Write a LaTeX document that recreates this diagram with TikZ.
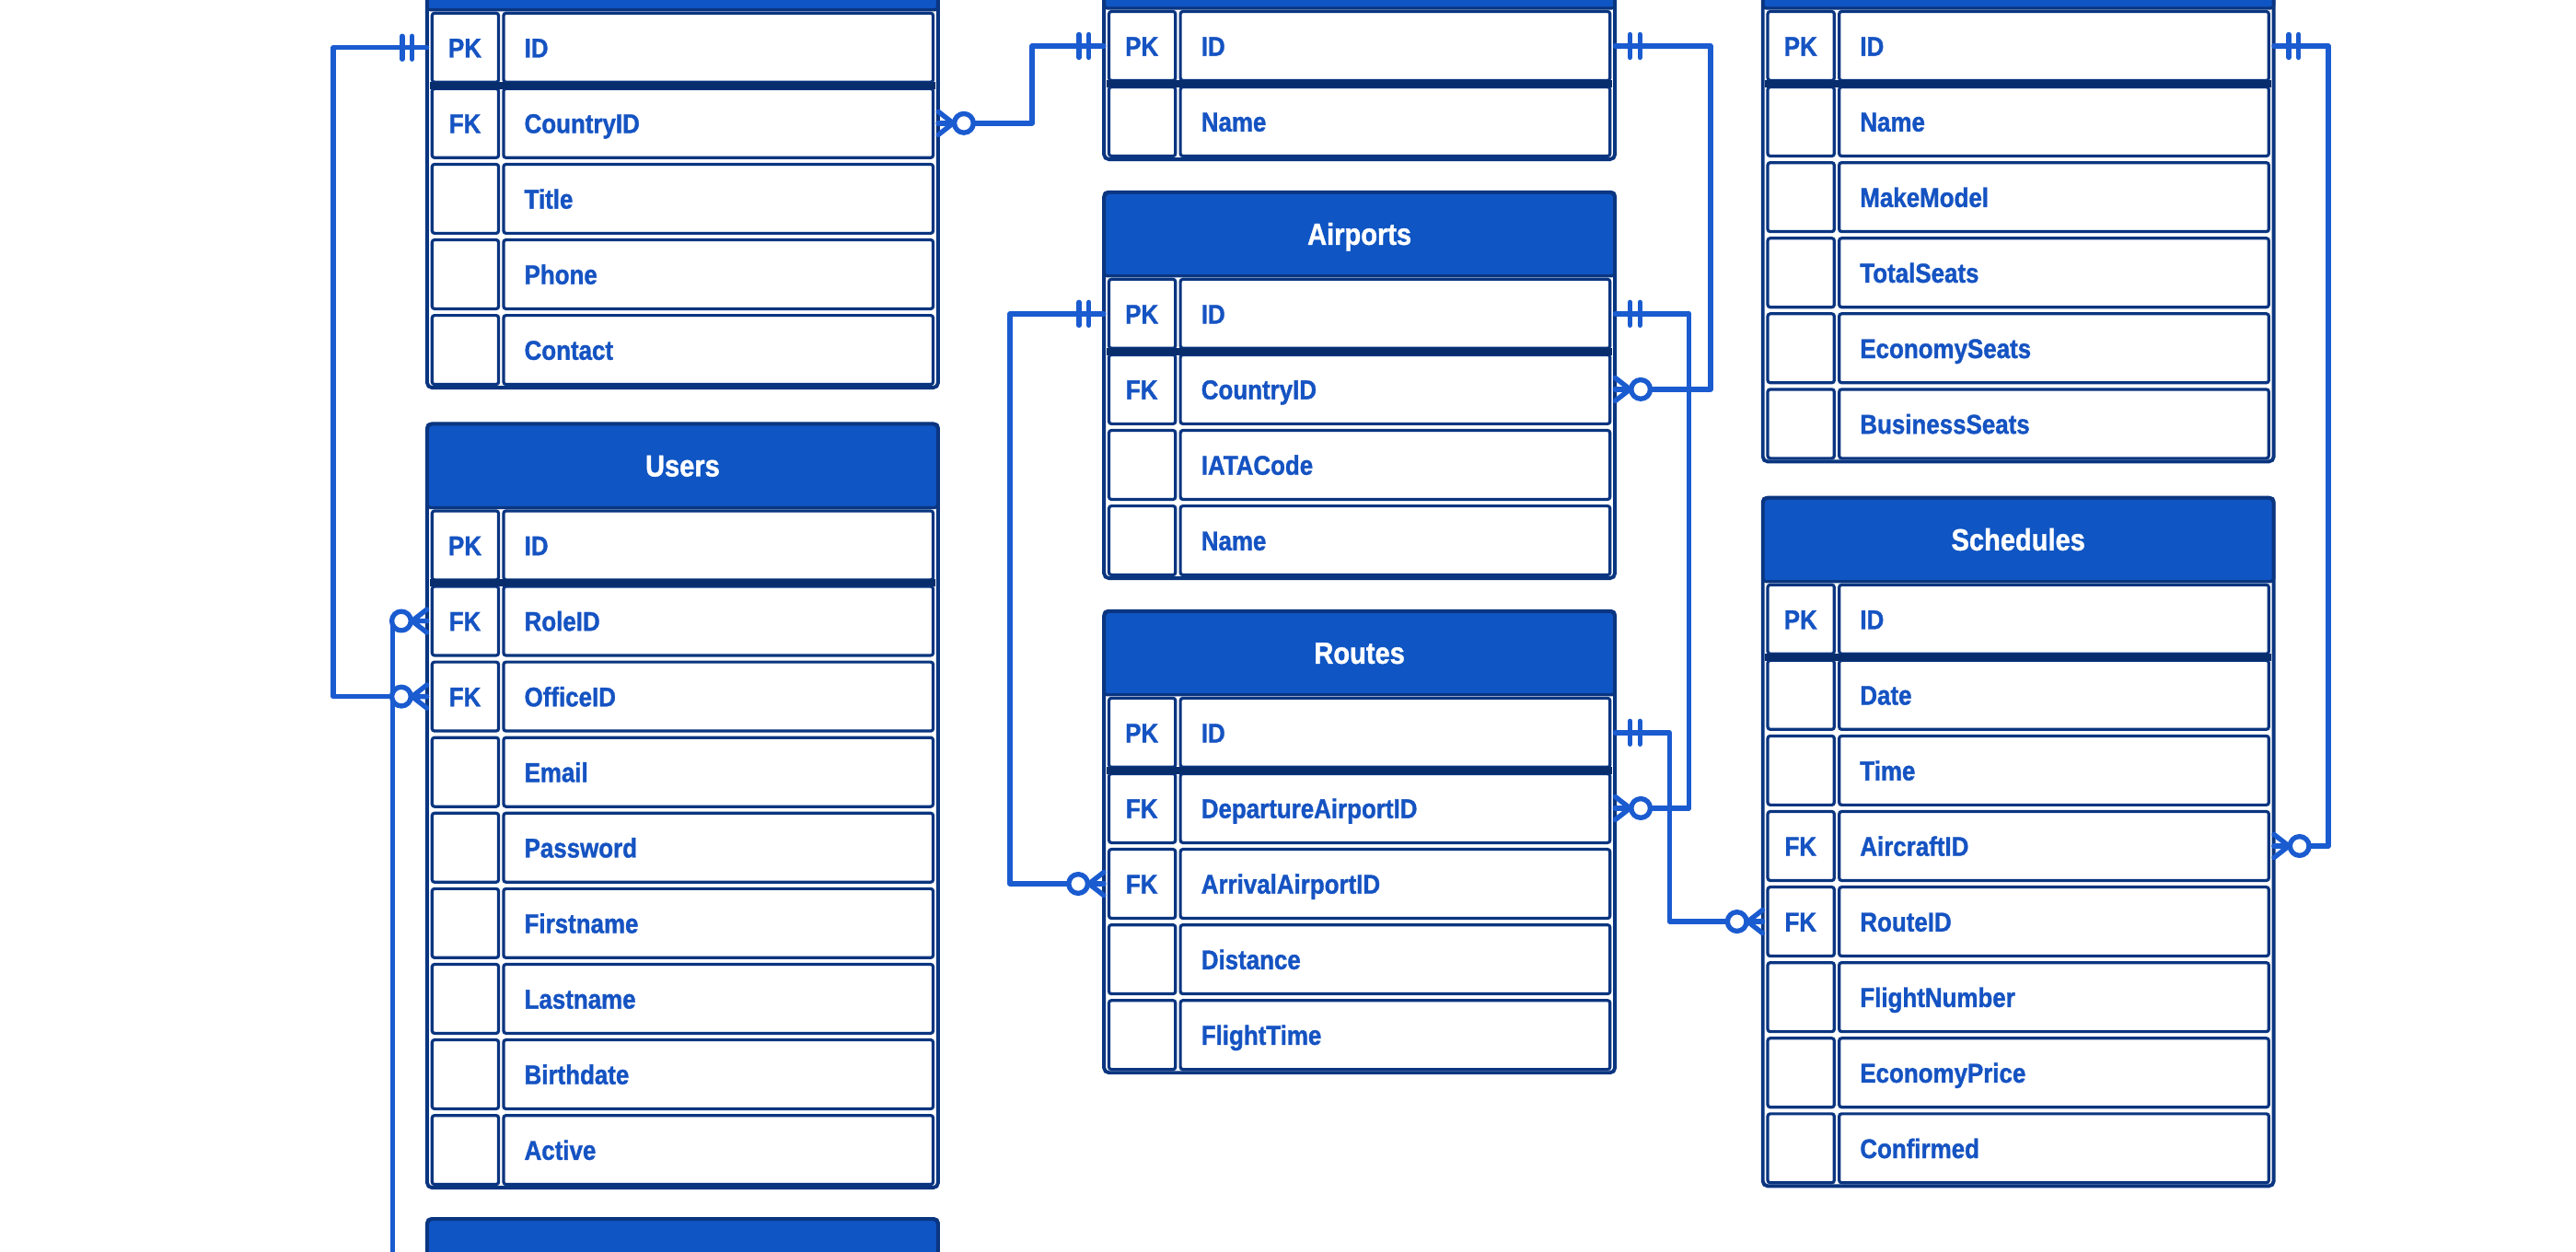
\documentclass[tikz,border=0pt]{standalone}
\usepackage{fontspec}
\newfontfamily\erfont[FakeStretch=0.88, FakeBold=1.2]{Liberation Sans}
\usetikzlibrary{calc}
\definecolor{navy}{HTML}{0A3580}
\definecolor{hblue}{HTML}{0F55C3}
\definecolor{tblue}{HTML}{1553C2}
\definecolor{cblue}{HTML}{1A5BD0}
\tikzset{
  cell/.style={draw=navy, line width=1.8pt, rounded corners=1.5pt},
  hdrbox/.style={draw=navy, fill=hblue, line width=1.8pt, rounded corners=2pt},
  outer/.style={draw=navy, line width=2.2pt, rounded corners=3pt},
  pkline/.style={draw=navy!85!black, line width=4.5pt},
  conn/.style={draw=cblue, line width=3pt, line join=round, line cap=round},
  rowbox/.style={draw=none, minimum width=311pt, minimum height=46pt, inner sep=0pt},
  fldt/.style={font=\erfont\bfseries\fontsize{16.5}{18}\selectfont, text=tblue, inner sep=0pt, anchor=base west},
  keyt/.style={font=\erfont\bfseries\fontsize{16.5}{18}\selectfont, text=tblue, inner sep=0pt, anchor=base},
  hdrt/.style={font=\erfont\bfseries\fontsize{18.5}{20}\selectfont, text=white, inner sep=0pt, anchor=base}
}
\newcommand{\ertbl}[6]{%
  \draw[hdrbox] (#2,#3) rectangle (#2+311,#3+51);
  \node[hdrt] (#1-h) at (#2+155.5,#3+32) {#4};
  \foreach \k/\f [count=\i] in {#6} {%
    \pgfmathsetmacro\ya{#3+51+(\i-1)*46}%
    \pgfmathsetmacro\yb{\ya+46}%
    \draw[cell] (#2+3,\ya+2) rectangle (#2+43.5,\yb-2);
    \draw[cell] (#2+46.5,\ya+2) rectangle (#2+308,\yb-2);
    \node[rowbox] (#1-\i) at (#2+155.5,\ya+23) {};
    \node[keyt] (#1-k\i) at (#2+23,\ya+29) {\k};
    \node[fldt] (#1-f\i) at (#2+59,\ya+29) {\f};
  }%
  \draw[pkline] (#2+1.5,#3+97) -- (#2+309.5,#3+97);
  \draw[outer] (#2,#3) rectangle (#2+311,#3+51+#5*46);
}
\newcommand{\mone}[2]{%
  \begin{scope}[shift={(#1)}, xscale=#2]
    \draw[conn] (9,-7) -- (9,7) (15,-7) -- (15,7);
  \end{scope}}
\newcommand{\mmany}[2]{%
  \begin{scope}[shift={(#1)}, xscale=#2]
    \draw[conn] (0,-7) -- (9,0) -- (0,7) (0,0) -- (9,0);
    \draw[conn, fill=white] (15.5,0) circle (5.8);
  \end{scope}}
\begin{document}
\begin{tikzpicture}[x=1pt,y=-1pt]
\useasboundingbox (0,0) rectangle (1568,762);
\clip (0,0) rectangle (1568,762);
\fill[white] (0,0) rectangle (1568,762);
% column A
\ertbl{off}{260}{-45}{}{5}{PK/ID, FK/CountryID, {}/Title, {}/Phone, {}/Contact}
\ertbl{usr}{260}{258}{Users}{9}{PK/ID, FK/RoleID, FK/OfficeID, {}/Email, {}/Password, {}/Firstname, {}/Lastname, {}/Birthdate, {}/Active}
\draw[hdrbox] (260,742) rectangle (571,793);
\draw[outer] (260,742) rectangle (571,800);
% column B
\ertbl{cty}{672}{-46}{}{2}{PK/ID, {}/Name}
\ertbl{apt}{672}{117}{Airports}{4}{PK/ID, FK/CountryID, {}/IATACode, {}/Name}
\ertbl{rte}{672}{372}{Routes}{5}{PK/ID, FK/DepartureAirportID, FK/ArrivalAirportID, {}/Distance, {}/FlightTime}
% column C
\ertbl{acf}{1073}{-46}{}{6}{PK/ID, {}/Name, {}/MakeModel, {}/TotalSeats, {}/EconomySeats, {}/BusinessSeats}
\ertbl{sch}{1073}{303}{Schedules}{8}{PK/ID, {}/Date, {}/Time, FK/AircraftID, FK/RouteID, {}/FlightNumber, {}/EconomyPrice, {}/Confirmed}
% connectors
\coordinate (roleend) at (239,780);
\draw[conn] (usr-2.west) -| (roleend);
\draw[conn] (off-1.west) -- ++(-57,0) |- (usr-3.west);
\draw[conn] (off-2.east) -- ++(57,0) |- (cty-1.west);
\draw[conn] (cty-1.east) -- ++(58,0) |- (apt-2.east);
\draw[conn] (apt-1.west) -- ++(-57,0) |- (rte-3.west);
\draw[conn] (apt-1.east) -- ++(45,0) |- (rte-2.east);
\draw[conn] (rte-1.east) -- ++(33,0) |- (sch-5.west);
\draw[conn] (acf-1.east) -- ++(33,0) |- (sch-4.east);
% marks
\mone{off-1.west}{-1}
\mmany{usr-3.west}{-1}
\mmany{usr-2.west}{-1}
\mmany{off-2.east}{1}
\mone{cty-1.west}{-1}
\mone{cty-1.east}{1}
\mmany{apt-2.east}{1}
\mone{apt-1.west}{-1}
\mmany{rte-3.west}{-1}
\mone{apt-1.east}{1}
\mmany{rte-2.east}{1}
\mone{rte-1.east}{1}
\mmany{sch-5.west}{-1}
\mone{acf-1.east}{1}
\mmany{sch-4.east}{1}
\end{tikzpicture}
\end{document}
